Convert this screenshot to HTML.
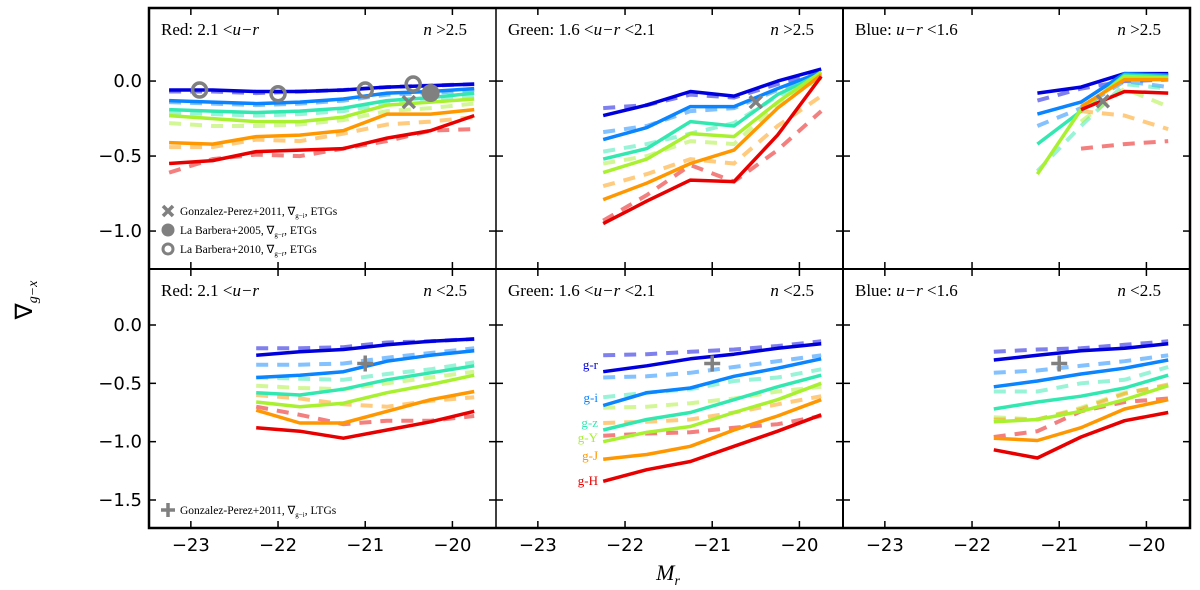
<!DOCTYPE html>
<html><head><meta charset="utf-8"><style>
body{margin:0;background:#fff;}
svg{display:block;font-family:"Liberation Serif",serif;}
.tk{font-family:"DejaVu Sans",sans-serif;font-size:18px;}
</style></head><body>
<svg id="chart" width="1200" height="590" viewBox="0 0 1200 590"></svg>
<script>
const colorNames=["g-r","g-i","g-z","g-Y","g-J","g-H"];
const colors=["#0000dd","#0a84ff","#33e8b0","#a8f030","#ff9800","#e80000"];
const xTop1=[-23.25,-22.75,-22.25,-21.75,-21.25,-20.75,-20.25,-19.75];
const xG=[-22.25,-21.75,-21.25,-20.75,-20.25,-19.75];
const xB1=[-21.25,-20.75,-20.25,-19.75];
const xB2=[-21.75,-21.25,-20.75,-20.25,-19.75];
const xTicks=[-23,-22,-21,-20];
const yTicksTop=[0,-0.5,-1.0];
const yTicksBot=[0,-0.5,-1.0,-1.5];
const p1Solid=[[-0.06,-0.06,-0.07,-0.07,-0.06,-0.04,-0.03,-0.02],[-0.13,-0.14,-0.15,-0.14,-0.12,-0.08,-0.07,-0.05],[-0.19,-0.2,-0.21,-0.2,-0.18,-0.13,-0.11,-0.08],[-0.23,-0.25,-0.27,-0.27,-0.24,-0.16,-0.14,-0.12],[-0.41,-0.42,-0.37,-0.36,-0.33,-0.22,-0.22,-0.19],[-0.55,-0.53,-0.47,-0.46,-0.45,-0.38,-0.33,-0.23]];
const p1Dash=[[-0.07,-0.07,-0.08,-0.07,-0.06,-0.04,-0.03,-0.02],[-0.14,-0.15,-0.16,-0.15,-0.13,-0.09,-0.08,-0.06],[-0.21,-0.22,-0.23,-0.22,-0.2,-0.15,-0.13,-0.1],[-0.28,-0.3,-0.3,-0.29,-0.26,-0.2,-0.18,-0.15],[-0.44,-0.44,-0.39,-0.4,-0.35,-0.29,-0.27,-0.24],[-0.61,-0.52,-0.49,-0.5,-0.45,-0.4,-0.33,-0.32]];
const p2Solid=[[-0.23,-0.16,-0.07,-0.1,0,0.08],[-0.39,-0.31,-0.17,-0.17,-0.05,0.06],[-0.52,-0.45,-0.27,-0.3,-0.09,0.05],[-0.61,-0.52,-0.35,-0.37,-0.14,0.06],[-0.79,-0.68,-0.55,-0.46,-0.18,0.04],[-0.95,-0.8,-0.66,-0.67,-0.36,0.03]];
const p2Dash=[[-0.18,-0.16,-0.09,-0.11,-0.02,0.06],[-0.34,-0.3,-0.2,-0.18,-0.06,0.04],[-0.47,-0.42,-0.35,-0.28,-0.1,0.02],[-0.55,-0.5,-0.4,-0.42,-0.15,0.02],[-0.7,-0.62,-0.52,-0.55,-0.3,-0.1],[-0.93,-0.76,-0.56,-0.67,-0.46,-0.2]];
const p3Solid=[[-0.08,-0.04,0.05,0.05],[-0.22,-0.14,0.05,0.04],[-0.42,-0.2,0.04,0.03],[-0.62,-0.19,0.03,0.02],[null,-0.17,0.01,0.01],[null,-0.19,-0.07,-0.08]];
const p3Dash=[[-0.13,-0.05,0,0.01],[-0.3,-0.18,0,-0.04],[-0.6,-0.3,-0.02,-0.05],[null,-0.27,-0.05,-0.17],[null,-0.2,-0.23,-0.32],[null,-0.45,-0.42,-0.4]];
const p4Solid=[[-0.26,-0.23,-0.21,-0.17,-0.14,-0.12],[-0.45,-0.43,-0.4,-0.31,-0.26,-0.22],[-0.58,-0.6,-0.55,-0.47,-0.41,-0.35],[-0.66,-0.7,-0.67,-0.58,-0.51,-0.43],[-0.73,-0.84,-0.84,-0.74,-0.64,-0.57],[-0.88,-0.91,-0.97,-0.9,-0.83,-0.74]];
const p4Dash=[[-0.2,-0.2,-0.19,-0.15,-0.14,-0.12],[-0.34,-0.34,-0.33,-0.28,-0.24,-0.2],[-0.45,-0.46,-0.47,-0.42,-0.38,-0.32],[-0.52,-0.54,-0.55,-0.5,-0.45,-0.4],[-0.6,-0.63,-0.68,-0.7,-0.65,-0.62],[-0.7,-0.77,-0.85,-0.82,-0.82,-0.78]];
const p5Solid=[[-0.4,-0.35,-0.29,-0.25,-0.2,-0.16],[-0.69,-0.58,-0.54,-0.44,-0.37,-0.29],[-0.9,-0.81,-0.75,-0.64,-0.53,-0.43],[-1.0,-0.92,-0.87,-0.75,-0.64,-0.5],[-1.15,-1.11,-1.04,-0.9,-0.78,-0.64],[-1.34,-1.24,-1.17,-1.04,-0.91,-0.77]];
const p5Dash=[[-0.26,-0.25,-0.23,-0.21,-0.18,-0.14],[-0.45,-0.44,-0.41,-0.36,-0.31,-0.26],[-0.62,-0.58,-0.55,-0.48,-0.45,-0.38],[-0.71,-0.7,-0.67,-0.63,-0.57,-0.53],[-0.84,-0.83,-0.81,-0.75,-0.68,-0.61],[-0.95,-0.93,-0.92,-0.88,-0.85,-0.78]];
const p6Solid=[[-0.3,-0.26,-0.22,-0.2,-0.16],[-0.53,-0.48,-0.42,-0.37,-0.3],[-0.72,-0.66,-0.61,-0.54,-0.43],[-0.83,-0.81,-0.74,-0.64,-0.52],[-0.97,-0.99,-0.88,-0.72,-0.64],[-1.07,-1.14,-0.96,-0.82,-0.75]];
const p6Dash=[[-0.23,-0.21,-0.2,-0.17,-0.14],[-0.41,-0.39,-0.35,-0.31,-0.26],[-0.57,-0.57,-0.5,-0.47,-0.36],[-0.79,-0.81,-0.71,-0.58,-0.52],[-0.81,-0.81,-0.72,-0.59,-0.51],[-0.96,-0.91,-0.74,-0.66,-0.63]];
const lb10X=[-22.9,-22.0,-21.0,-20.45];
const lb10Y=[-0.06,-0.085,-0.06,-0.02];
const lb05X=[-20.25];
const lb05Y=[-0.08];
const gpX=[-20.5,-20.5,-20.5];
const gpY=[-0.14,-0.14,-0.135];
const ltgX=[-21,-21,-21];
const ltgY=[-0.33,-0.33,-0.33];

const NS="http://www.w3.org/2000/svg";
const svg=document.getElementById('chart');
function el(tag,attrs,parent){const e=document.createElementNS(NS,tag);for(const k in attrs)e.setAttribute(k,attrs[k]);(parent||svg).appendChild(e);return e;}
const colL=[149,496,843], W=347, XMIN=-23.48, XMAX=-19.5;
const rows=[{top:8,h:261,ymax:0.487,ymin:-1.253},{top:269,h:259,ymax:0.48,ymin:-1.74}];
function sx(c,v){return colL[c]+(v-XMIN)/(XMAX-XMIN)*W;}
function sy(r,v){const R=rows[r];return R.top+(R.ymax-v)/(R.ymax-R.ymin)*R.h;}

const panels=[
 {c:0,r:0,x:xTop1,s:p1Solid,d:p1Dash,title:"Red: 2.1 <",tit2:"u−r",tit3:"",n:">2.5"},
 {c:1,r:0,x:xG,s:p2Solid,d:p2Dash,title:"Green: 1.6 <",tit2:"u−r",tit3:" <2.1",n:">2.5"},
 {c:2,r:0,x:xB1,s:p3Solid,d:p3Dash,title:"Blue: ",tit2:"u−r",tit3:" <1.6",n:">2.5"},
 {c:0,r:1,x:xG,s:p4Solid,d:p4Dash,title:"Red: 2.1 <",tit2:"u−r",tit3:"",n:"<2.5"},
 {c:1,r:1,x:xG,s:p5Solid,d:p5Dash,title:"Green: 1.6 <",tit2:"u−r",tit3:" <2.1",n:"<2.5"},
 {c:2,r:1,x:xB2,s:p6Solid,d:p6Dash,title:"Blue: ",tit2:"u−r",tit3:" <1.6",n:"<2.5"}
];
function pathFor(p,xs,ys){let d="",pen=false;for(let i=0;i<xs.length;i++){if(ys[i]==null){pen=false;continue;}d+=(pen?"L":"M")+sx(p.c,xs[i]).toFixed(1)+","+sy(p.r,ys[i]).toFixed(1);pen=true;}return d;}
function mkText(attrs,parent,parts){const t=el('text',attrs,parent);parts.forEach(pt=>{if(typeof pt==='string'){t.appendChild(document.createTextNode(pt));}else{const s=el('tspan',pt.a,t);s.textContent=pt.t;}});return t;}

panels.forEach((p,pi)=>{
  const g=el('g',{});
  
  
  for(let k=0;k<6;k++){
    const ln=el('path',{d:pathFor(p,p.x,p.d[k]),fill:'none',stroke:colors[k],'stroke-opacity':0.5,'stroke-width':4,'stroke-dasharray':'12,9'},g);
    
    
  }
  for(let k=0;k<6;k++){
    const ln=el('path',{d:pathFor(p,p.x,p.s[k]),fill:'none',stroke:colors[k],'stroke-width':3.5,'stroke-linejoin':'round'},g);
    
    
  }
  const L=colL[p.c], T=rows[p.r].top, H=rows[p.r].h;
  xTicks.forEach(v=>{const X=sx(p.c,v);el('line',{x1:X,x2:X,y1:T,y2:T+7,stroke:'#000','stroke-width':1.5},g);el('line',{x1:X,x2:X,y1:T+H,y2:T+H-7,stroke:'#000','stroke-width':1.5},g);});
  (p.r===0?yTicksTop:yTicksBot).forEach(v=>{const Y=sy(p.r,v);el('line',{x1:L,x2:L+7,y1:Y,y2:Y,stroke:'#000','stroke-width':1.5},g);el('line',{x1:L+W,x2:L+W-7,y1:Y,y2:Y,stroke:'#000','stroke-width':1.5},g);});
  const t=mkText({x:L+12,y:T+27,'font-size':17},g,[p.title,{a:{'font-style':'italic'},t:p.tit2},p.tit3]);
  
  
  const n=mkText({x:L+318,y:T+27,'font-size':17,'text-anchor':'end'},g,[{a:{'font-style':'italic'},t:'n'},' '+p.n]);
  
  
});

const fr=el('rect',{x:149,y:8,width:1041,height:520,fill:'none',stroke:'#000','stroke-width':2.5});


el('line',{x1:496,x2:496,y1:8,y2:528,stroke:'#000','stroke-width':1.5});
el('line',{x1:843,x2:843,y1:8,y2:528,stroke:'#000','stroke-width':2});
el('line',{x1:149,x2:1190,y1:269,y2:269,stroke:'#000','stroke-width':2});

[0,1,2].forEach(c=>xTicks.forEach(v=>{const t=el('text',{x:sx(c,v),y:551,class:'tk','text-anchor':'middle'});
  
  
  t.textContent=(v<0?'−':'')+Math.abs(v);}));
[[0,yTicksTop],[1,yTicksBot]].forEach(([r,arr])=>arr.forEach(v=>{const t=el('text',{x:142,y:sy(r,v)+6,class:'tk','text-anchor':'end'});
  
  
  t.textContent=(v<0?'−':'')+Math.abs(v).toFixed(1);}));

const xt=mkText({x:668,y:580,'font-size':22,'font-style':'italic','text-anchor':'middle'},null,['M',{a:{'font-size':14,dy:5},t:'r'}]);


const yt=mkText({x:0,y:0,'font-size':24,transform:'translate(32,300) rotate(-90)','text-anchor':'middle'},null,['∇',{a:{'font-size':14,dy:5,'font-style':'italic'},t:'g−x'}]);



function xmark(c,r,x,y){const X=sx(c,x),Y=sy(r,y);const g=el('g',{stroke:'#808080','stroke-width':3.5});
  
  
  el('line',{x1:X-6,y1:Y-6,x2:X+6,y2:Y+6},g);el('line',{x1:X-6,y1:Y+6,x2:X+6,y2:Y-6},g);}
function plus(c,r,x,y){const X=sx(c,x),Y=sy(r,y);const g=el('g',{stroke:'#808080','stroke-width':3.5});
  
  
  el('line',{x1:X-8,y1:Y,x2:X+8,y2:Y},g);el('line',{x1:X,y1:Y-8,x2:X,y2:Y+8},g);}
lb10X.forEach((x,i)=>{const m=el('circle',{cx:sx(0,x),cy:sy(0,lb10Y[i]),r:7,fill:'none',stroke:'#808080','stroke-width':3.5});
  
  });
lb05X.forEach((x,i)=>{const m=el('circle',{cx:sx(0,x),cy:sy(0,lb05Y[i]),r:9,fill:'#808080'});
  
  });
[0,1,2].forEach(c=>xmark(c,0,gpX[c],gpY[c]));
[0,1,2].forEach(c=>plus(c,1,ltgX[c],ltgY[c]));

function legText(x,y,pre,sub,post){const t=mkText({x:x,y:y,'font-size':11.5},null,[pre,{a:{'font-size':7,dy:3},t:sub},{a:{dy:-3},t:post}]);
  
  }
let g1=el('g',{stroke:'#808080','stroke-width':3.5});
el('line',{x1:163,y1:206,x2:173,y2:216},g1);el('line',{x1:163,y1:216,x2:173,y2:206},g1);
legText(180,215,'Gonzalez-Perez+2011, ∇','g−i',', ETGs');
el('circle',{cx:168,cy:230,r:6.5,fill:'#808080'});
legText(180,234,'La Barbera+2005, ∇','g−r',', ETGs');
el('circle',{cx:168,cy:249,r:5,fill:'none',stroke:'#808080','stroke-width':3});
legText(180,253,'La Barbera+2010, ∇','g−r',', ETGs');
let g2=el('g',{stroke:'#808080','stroke-width':3.5});
el('line',{x1:161,y1:510,x2:175,y2:510},g2);el('line',{x1:168,y1:503,x2:168,y2:517},g2);
legText(180,514,'Gonzalez-Perez+2011, ∇','g−i',', LTGs');

const labY=[369,402,427,442,460,485];
colorNames.forEach((nm,k)=>{const t=el('text',{x:598,y:labY[k],'font-size':13,fill:colors[k],'text-anchor':'end'});
  
  
  t.textContent=nm;});
</script>
</body></html>
